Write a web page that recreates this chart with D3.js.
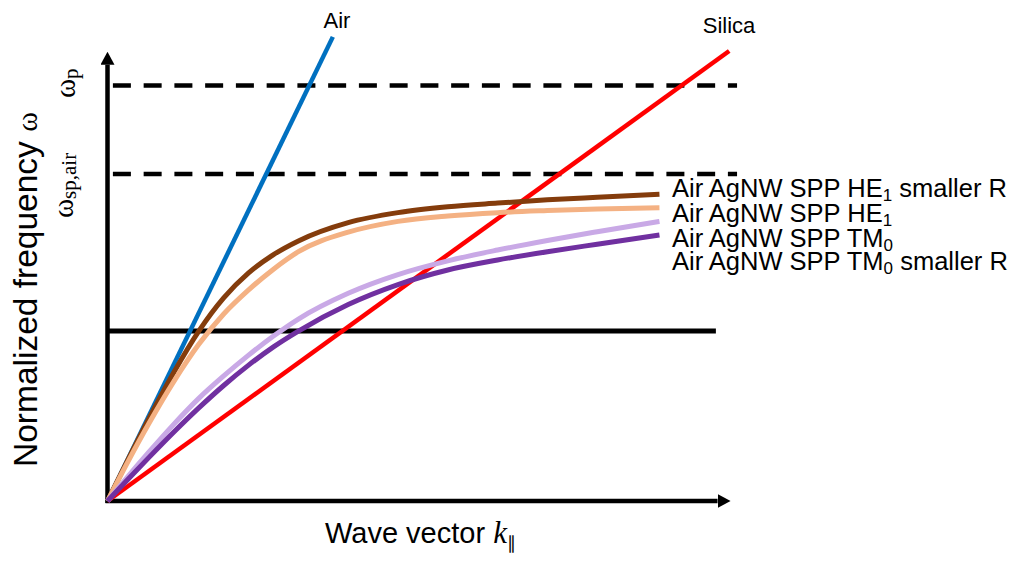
<!DOCTYPE html>
<html>
<head>
<meta charset="utf-8">
<script src="https://cdn.jsdelivr.net/npm/d3@7"></script>
<style>
  html, body { margin: 0; padding: 0; background: #fff; }
  svg { display: block; }
  .sans { font-family: Arial, "Liberation Sans", sans-serif; fill: #000; }
  .serif { font-family: "Times New Roman", "Liberation Serif", serif; fill: #000; }
</style>
</head>
<body>
<svg id="chart" width="1017" height="563"></svg>
<script>
// Wave vector samples (normalized units) shared by the dispersion curves
const k = [0, 0.05, 0.10, 0.16, 0.22, 0.28, 0.34, 0.40, 0.46, 0.58, 0.70, 0.82, 0.94, 1.06, 1.18, 1.33];

// Normalized frequency of each SPP branch at the samples above
const he1Smaller = [0, 0.101, 0.199, 0.310, 0.409, 0.489, 0.549, 0.593, 0.626, 0.670, 0.694, 0.708, 0.717, 0.725, 0.731, 0.738];
const he1        = [0, 0.096, 0.187, 0.288, 0.377, 0.450, 0.508, 0.558, 0.600, 0.647, 0.673, 0.686, 0.694, 0.699, 0.703, 0.706];
const tm0        = [0, 0.060, 0.118, 0.185, 0.247, 0.301, 0.351, 0.397, 0.438, 0.500, 0.545, 0.578, 0.604, 0.627, 0.648, 0.673];
const tm0Smaller = [0, 0.053, 0.105, 0.166, 0.224, 0.278, 0.327, 0.371, 0.409, 0.473, 0.521, 0.556, 0.580, 0.600, 0.618, 0.640];

const seriesNames  = ["Air AgNW SPP HE1 smaller R", "Air AgNW SPP HE1", "Air AgNW SPP TM0", "Air AgNW SPP TM0 smaller R"];
const seriesValues = [he1Smaller, he1, tm0, tm0Smaller];

// Light lines (straight, through the origin): end points
const lightNames = ["Air", "Silica"];
const lightK     = [0.543, 1.498];
const lightW     = [1.117, 1.083];

// Characteristic frequencies
const levelValues = [1.0, 0.787];          // ωp, ωsp,air (dashed)
const cutoffValue = 0.409;                  // solid horizontal line
const levelStart = 0.013, levelEnd = 1.517, cutoffEnd = 1.466;

// Axis extents (before arrow heads)
const kAxisMax = 1.47, wAxisMax = 1.05;

const svg = d3.select("#chart");

const x = d3.scaleLinear().domain([0, 1.5]).range([107.5, 730]);
const y = d3.scaleLinear().domain([0, 1]).range([501, 85.5]);

const colors = ["#843C0C", "#F4B183", "#C9A9E6", "#7030A0"];
const lightColors = ["#0070C0", "#FF0000"];

// Arrow heads
const defs = svg.append("defs");
defs.append("marker")
  .attr("id", "arrow")
  .attr("markerUnits", "userSpaceOnUse")
  .attr("viewBox", "0 0 13 14")
  .attr("refX", 0).attr("refY", 7)
  .attr("markerWidth", 13).attr("markerHeight", 14)
  .attr("orient", "auto")
  .append("path").attr("d", "M0,0 L13,7 L0,14 Z").attr("fill", "#000");

// Axes: plain lines with arrows, no ticks
const xAxisScale = x.copy().domain([0, kAxisMax]).range([x(0), x(kAxisMax)]);
const yAxisScale = y.copy().domain([0, wAxisMax]).range([y(0), y(wAxisMax)]);

const gx = svg.append("g").attr("transform", `translate(0,${y(0)})`)
  .call(d3.axisBottom(xAxisScale).ticks(0).tickSizeOuter(0));
gx.select(".domain").attr("stroke", "#000").attr("stroke-width", 4.5)
  .attr("d", `M${x(0) - 2},0H${x(kAxisMax)}`)
  .attr("marker-end", "url(#arrow)");

const gy = svg.append("g").attr("transform", `translate(${x(0)},0)`)
  .call(d3.axisLeft(yAxisScale).ticks(0).tickSizeOuter(0));
gy.select(".domain").attr("stroke", "#000").attr("stroke-width", 4.5)
  .attr("d", `M0,${y(0) + 2}V${y(wAxisMax)}`)
  .attr("marker-end", "url(#arrow)");

// Dashed frequency levels
svg.selectAll("line.level").data(levelValues).enter().append("line")
  .attr("class", "level")
  .attr("x1", x(levelStart)).attr("x2", x(levelEnd))
  .attr("y1", d => y(d)).attr("y2", d => y(d))
  .attr("stroke", "#000").attr("stroke-width", 4.5)
  .attr("stroke-dasharray", "18 12.75");

// Solid horizontal line
svg.append("line")
  .attr("x1", x(0)).attr("x2", x(cutoffEnd))
  .attr("y1", y(cutoffValue)).attr("y2", y(cutoffValue))
  .attr("stroke", "#000").attr("stroke-width", 5);

// Light lines
const lineGen = d3.line().x(d => x(d[0])).y(d => y(d[1]));
lightNames.forEach((name, i) => {
  svg.append("path")
    .attr("d", lineGen([[0, 0], [lightK[i], lightW[i]]]))
    .attr("fill", "none").attr("stroke", lightColors[i]).attr("stroke-width", 4.5);
});

// SPP dispersion curves
const curveGen = d3.line().curve(d3.curveMonotoneX).x((d, i) => x(k[i])).y(d => y(d));
seriesValues.forEach((vals, i) => {
  svg.append("path")
    .attr("d", curveGen(vals))
    .attr("fill", "none").attr("stroke", colors[i]).attr("stroke-width", 5)
    .attr("stroke-linecap", "butt");
});

// Light line labels
svg.append("text").attr("class", "sans").attr("x", 337).attr("y", 28)
  .attr("text-anchor", "middle").attr("font-size", 22).text(lightNames[0]);
svg.append("text").attr("class", "sans").attr("x", 729).attr("y", 33)
  .attr("text-anchor", "middle").attr("font-size", 22).text(lightNames[1]);

// Curve labels with subscripts
const labelY = [197, 222, 247, 270];
seriesNames.forEach((name, i) => {
  const m = name.match(/^(.*(?:HE|TM))(\d)(.*)$/);
  const t = svg.append("text").attr("class", "sans")
    .attr("x", 672).attr("y", labelY[i]).attr("font-size", 25.5);
  t.append("tspan").text(m[1]);
  t.append("tspan").attr("font-size", 17).attr("dy", 4).text(m[2]);
  t.append("tspan").attr("dy", -4).text(m[3]);
});

// Axis titles
const yt = svg.append("text").attr("class", "sans").attr("font-size", 33.5)
  .attr("transform", "translate(37,467) rotate(-90)");
yt.append("tspan").text("Normalized frequency ");
yt.append("tspan").attr("class", "serif").attr("font-size", 30).text("ω");

const xt = svg.append("text").attr("class", "sans").attr("font-size", 29)
  .attr("x", 325).attr("y", 543);
xt.append("tspan").text("Wave vector ");
xt.append("tspan").attr("class", "serif").attr("font-style", "italic").attr("font-size", 31).text("k");
xt.append("tspan").attr("font-size", 18).attr("dy", 6).text("∥");

// Level labels (rotated)
const lp = svg.append("text").attr("class", "serif").attr("font-size", 29)
  .attr("transform", "translate(75,98) rotate(-90)");
lp.append("tspan").text("ω");
lp.append("tspan").attr("font-size", 21).attr("dy", 3).text("p");

const ls = svg.append("text").attr("class", "serif").attr("font-size", 29)
  .attr("transform", "translate(73,218) rotate(-90)");
ls.append("tspan").text("ω");
ls.append("tspan").attr("font-size", 21).attr("dy", 3).text("sp,air");
</script>
</body>
</html>
